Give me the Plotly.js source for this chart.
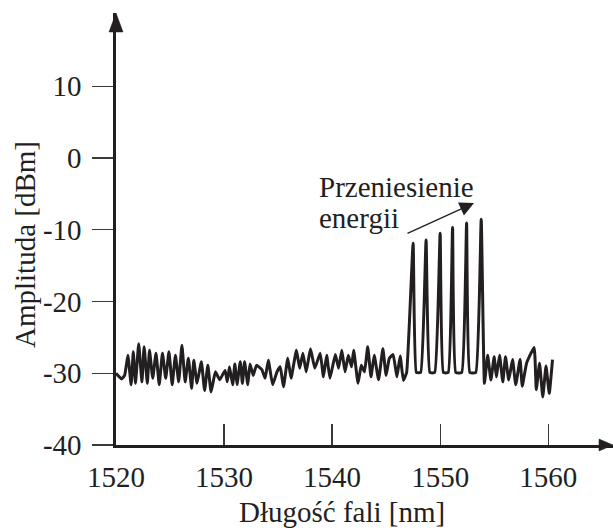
<!DOCTYPE html>
<html>
<head>
<meta charset="utf-8">
<script src="https://cdn.plot.ly/plotly-3.0.1.min.js"></script>
<style>
  html, body { margin: 0; padding: 0; background: #ffffff; }
  #chart { width: 613px; height: 528px; }
</style>
</head>
<body>
<div id="chart"></div>
<script>
// ---- data ----
const wavelength = [
  1520.0, 1520.3, 1520.5, 1520.8, 1521.1, 1521.4, 1521.6, 1521.8, 1522.1, 1522.4,
  1522.6, 1522.9, 1523.1, 1523.4, 1523.7, 1524.0, 1524.3, 1524.6, 1524.9, 1525.2,
  1525.5, 1525.8, 1526.1, 1526.4, 1526.7, 1527.0, 1527.2, 1527.5, 1527.9, 1528.2,
  1528.5, 1528.8, 1529.2, 1529.6, 1530.1,
  1530.3, 1530.5, 1530.8, 1531.0, 1531.2, 1531.5, 1531.7, 1531.9, 1532.2, 1532.4,
  1532.7, 1533.0, 1533.5, 1533.8, 1534.1, 1534.5, 1534.9, 1535.2, 1535.5, 1535.9,
  1536.2, 1536.7, 1537.0, 1537.3, 1537.6, 1538.0, 1538.4, 1538.9, 1539.2, 1539.5,
  1539.8, 1540.3,
  1540.6, 1540.9, 1541.2, 1541.5, 1541.8, 1542.0, 1542.4, 1542.7, 1543.0, 1543.3,
  1543.6, 1543.9, 1544.3, 1544.7, 1545.0, 1545.3, 1545.65, 1546.0, 1546.3, 1546.6,
  1546.9,
  1547.5, 1547.8, 1548.2, 1548.7, 1549.05, 1549.5, 1550.0, 1550.3, 1550.75, 1551.15,
  1551.45, 1552.0, 1552.45, 1552.75, 1553.3, 1553.8,
  1554.1, 1554.4, 1554.7, 1555.0, 1555.2, 1555.5, 1555.8, 1556.05, 1556.35, 1556.7,
  1557.0, 1557.4, 1557.6, 1558.0, 1558.7, 1558.9, 1559.2, 1559.5, 1559.8, 1560.1,
  1560.4
];
const amplitude = [
  -30.0, -30.5, -30.8, -30.3, -27.5, -31.6, -27.0, -31.4, -25.9, -31.2,
  -26.3, -31.4, -26.8, -30.7, -27.2, -31.6, -27.2, -30.7, -27.0, -31.6,
  -27.5, -31.2, -26.1, -31.2, -27.9, -32.1, -28.2, -31.4, -28.4, -32.4,
  -28.9, -32.6, -29.8, -30.9, -29.6,
  -31.2, -29.1, -31.6, -28.7, -31.6, -28.4, -31.4, -28.4, -31.6, -28.7,
  -30.3, -28.9, -29.5, -30.7, -28.2, -31.6, -29.8, -29.1, -31.9, -27.9,
  -30.7, -26.8, -29.3, -27.2, -29.8, -26.6, -29.3, -27.2, -30.5, -27.5,
  -30.7, -27.4,
  -29.3, -26.8, -29.8, -27.5, -29.1, -26.8, -31.4, -28.9, -29.8, -26.3,
  -30.5, -27.5, -30.9, -26.6, -30.3, -27.9, -27.4, -30.5, -27.6, -31.0,
  -29.9,
  -11.9, -29.9, -29.9, -11.45, -29.9, -29.9, -10.5, -29.9, -29.9, -9.7,
  -29.9, -29.9, -9.05, -29.9, -29.9, -8.55,
  -31.4, -27.5, -30.95, -27.7, -30.5, -27.5, -31.2, -27.7, -30.95, -28.1,
  -31.6, -28.1, -31.8, -28.6, -26.4, -32.3, -28.6, -33.3, -29.0, -32.8,
  -28.1
];
const xTickVals = [1520, 1530, 1540, 1550, 1560];
const xTickText = ['1520', '1530', '1540', '1550', '1560'];
const yTickVals = [-40, -30, -20, -10, 0, 10];
const yTickText = ['-40', '-30', '-20', '-10', '0', '10'];
const xTitle = 'Długość fali [nm]';
const yTitle = 'Amplituda [dBm]';
const noteLine1 = 'Przeniesienie';
const noteLine2 = 'energii';

// ---- layout geometry (pixels) ----
const W = 613, H = 528;
const M = {l: 116, r: 0, t: 13, b: 83};
const xRange = [1520, 1566];
const yRange = [-40, 20.2];
const plotW = W - M.l - M.r, plotH = H - M.t - M.b;
function px2x(px) { return xRange[0] + (px - M.l) / plotW * (xRange[1] - xRange[0]); }
function py2y(py) { return yRange[0] + (H - M.b - py) / plotH * (yRange[1] - yRange[0]); }

const ink = '#231f20';
const serif = 'Liberation Serif, Times New Roman, serif';

const trace = {
  x: wavelength, y: amplitude, type: 'scatter', mode: 'lines',
  line: {color: ink, width: 3, shape: 'spline', smoothing: 0.35}, hoverinfo: 'skip'
};

const layout = {
  width: W, height: H,
  margin: M,
  paper_bgcolor: '#ffffff', plot_bgcolor: '#ffffff',
  showlegend: false,
  font: {family: serif, size: 29, color: ink},
  xaxis: {
    range: xRange, tickvals: xTickVals, ticktext: xTickText,
    ticks: 'inside', ticklen: 21, tickwidth: 1.2, tickcolor: '#3a3a3a',
    showline: true, linewidth: 2.6, linecolor: ink,
    showgrid: false, zeroline: false,
    tickfont: {family: serif, size: 29, color: ink},
    ticklabelstandoff: 5
  },
  yaxis: {
    range: yRange, tickvals: yTickVals, ticktext: yTickText,
    ticks: 'outside', ticklen: 21, tickwidth: 1.2, tickcolor: '#3a3a3a',
    showline: true, linewidth: 2.6, linecolor: ink,
    showgrid: false, zeroline: false,
    tickfont: {family: serif, size: 29, color: ink},
    ticklabelstandoff: 5
  },
  shapes: [
    { // arrowhead on y axis
      type: 'path', xref: 'paper', yref: 'paper',
      xsizemode: 'pixel', ysizemode: 'pixel', xanchor: 0, yanchor: 1,
      path: 'M -7 -19 L 0 0 L 7 -19 Z',
      fillcolor: ink, line: {color: ink, width: 0.5}
    },
    { // arrowhead on x axis
      type: 'path', xref: 'paper', yref: 'paper',
      xsizemode: 'pixel', ysizemode: 'pixel', xanchor: 1, yanchor: 0,
      path: 'M -14 6 L 0 0 L -14 -6 Z',
      fillcolor: ink, line: {color: ink, width: 0.5}
    }
  ],
  annotations: [
    { text: yTitle, textangle: -90, showarrow: false,
      xref: 'paper', yref: 'y', x: 0, y: py2y(245), xanchor: 'center', yanchor: 'middle',
      xshift: 25 - M.l, font: {family: serif, size: 29, color: ink} },
    { text: xTitle, showarrow: false,
      xref: 'x', yref: 'paper', x: px2x(342), y: 0, xanchor: 'center', yanchor: 'middle',
      yshift: -(512 - (H - M.b)), font: {family: serif, size: 29, color: ink} },
    { text: noteLine1, showarrow: false, xref: 'x', yref: 'y',
      x: px2x(317), y: py2y(187), xanchor: 'left', yanchor: 'middle',
      font: {family: serif, size: 29, color: ink} },
    { text: noteLine2, showarrow: false, xref: 'x', yref: 'y',
      x: px2x(317), y: py2y(218), xanchor: 'left', yanchor: 'middle',
      font: {family: serif, size: 29, color: ink} },
    { text: '', showarrow: true, xref: 'x', yref: 'y',
      x: px2x(474), y: py2y(203), ax: 406 - 474, ay: 234 - 203,
      arrowhead: 2, arrowsize: 2.2, arrowwidth: 1.3, arrowcolor: ink, standoff: 0 }
  ]
};

Plotly.newPlot('chart', [trace], layout, {staticPlot: true, displayModeBar: false});
</script>
</body>
</html>
